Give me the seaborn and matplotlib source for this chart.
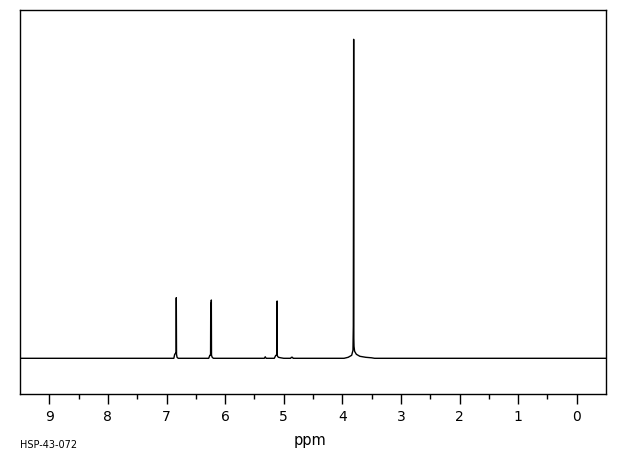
import pandas as pd
import matplotlib.pyplot as plt
import seaborn as sns

# trace points (ppm, intensity above baseline)
ppm = [9.5, 7.0, 6.875, 6.86, 6.845, 6.836, 6.833, 6.829, 6.82, 6.80,
       6.28, 6.26, 6.248, 6.245, 6.242, 6.238, 6.235, 6.232, 6.22, 6.20,
       5.33, 5.315, 5.30, 5.16, 5.135, 5.115, 5.112, 5.109, 5.105, 5.09, 5.05, 5.0,
       4.88, 4.87, 4.85, 4.84,
       3.97, 3.90, 3.84, 3.818, 3.812, 3.806, 3.803, 3.80, 3.79, 3.76, 3.70, 3.60, 3.50, 3.45,
       -0.5]
intensity = [0, 0, 0, 4, 5, 5, 60.6, 4, 1, 0,
             0, 3, 3, 55, 3, 3, 58.3, 3, 1, 0,
             0, 1.5, 0, 0, 3, 3, 57.3, 3, 2, 1, 0.5, 0,
             0, 1, 1, 0,
             0, 1, 3, 8, 32, 319, 20, 12, 7, 4, 2, 1, 0.5, 0,
             0]
major_ticks = [9, 8, 7, 6, 5, 4, 3, 2, 1, 0]
minor_ticks = [8.5, 7.5, 6.5, 5.5, 4.5, 3.5, 2.5, 1.5, 0.5]

def main():
    spec = pd.DataFrame({'ppm': ppm, 'intensity': intensity})

    sns.set_style('white')
    plt.rcParams['font.family'] = ['DejaVu Sans']
    plt.rcParams['text.color'] = 'black'
    plt.rcParams['xtick.color'] = 'black'

    fig = plt.figure(figsize=(6.2, 4.55), dpi=100)
    ax = fig.add_axes([20 / 620, 1 - 394 / 455, 586 / 620, 384.5 / 455])

    sns.lineplot(data=spec, x='ppm', y='intensity', sort=False, estimator=None,
                 color='black', linewidth=1.0, ax=ax)

    ax.set_xlim(9.5, -0.5)
    ax.set_ylim(-35.7, 348.8)
    for s in ax.spines.values():
        s.set_color('black')
        s.set_linewidth(1.0)

    ax.set_xticks(major_ticks)
    ax.set_xticks(minor_ticks, minor=True)
    ax.tick_params(axis='x', which='major', direction='out', length=7.2, width=1,
                   color='black', labelcolor='black', labelsize=10, pad=4.3, bottom=True)
    ax.tick_params(axis='x', which='minor', direction='out', length=3.6, width=1,
                   color='black', bottom=True)
    ax.set_yticks([])
    ax.set_ylabel('')
    ax.set_xlabel('')

    fig.text(310 / 620, 1 - 440 / 455, 'ppm', fontsize=10.5, va='center', ha='center', color='black')
    fig.text(20 / 620, 1 - 444.5 / 455, 'HSP-43-072', fontsize=7, va='center', ha='left', color='black')

    plt.savefig('out.png', dpi=100)


if __name__ == '__main__':
    main()
